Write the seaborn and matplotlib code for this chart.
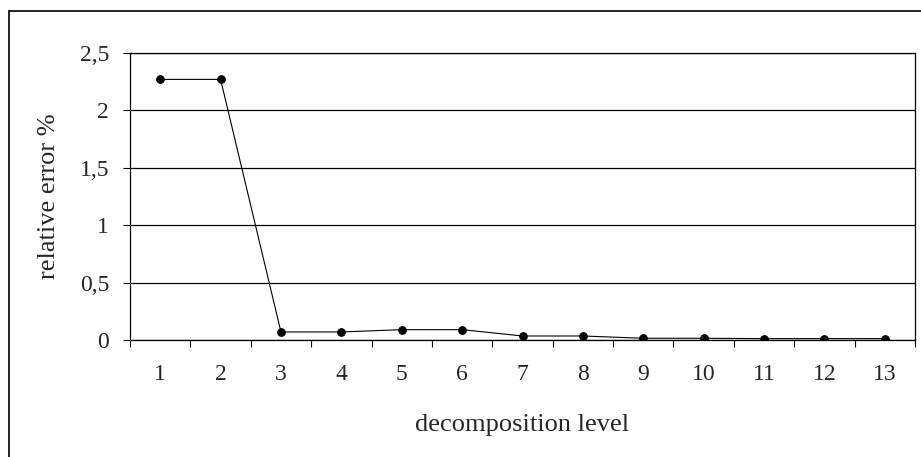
import numpy as np
import pandas as pd
import matplotlib
matplotlib.use('Agg')
import matplotlib.pyplot as plt
from matplotlib.ticker import FuncFormatter, FixedLocator
from matplotlib.lines import Line2D
import seaborn as sns

# Datos
niveles = list(range(1, 14))
error_relativo = [2.27, 2.27, 0.07, 0.07, 0.09, 0.09, 0.035, 0.035, 0.015, 0.015, 0.012, 0.012, 0.012]
y_ticks = [0, 0.5, 1, 1.5, 2, 2.5]

df = pd.DataFrame({'nivel': niveles, 'error': error_relativo})

sns.set_style('white')
plt.rcParams['font.family'] = ['Liberation Serif', 'DejaVu Serif']

fig = plt.figure(figsize=(9.21, 4.57), dpi=100)
ax = fig.add_axes([130/921, 1 - 340/457, (915 - 130)/921, (340 - 53)/457])

sns.lineplot(data=df, x='nivel', y='error', color='black', linewidth=0.8,
             marker='o', markersize=5.5, markeredgecolor='black', ax=ax)

ax.set_xlim(0.5, 13.5)
ax.set_ylim(0, 2.5)

# Ticks de categoría: marcas en los bordes, etiquetas en el centro
ax.xaxis.set_major_locator(FixedLocator(np.arange(0.5, 14, 1)))
ax.xaxis.set_major_formatter(FuncFormatter(lambda v, p: ''))
ax.xaxis.set_minor_locator(FixedLocator(niveles))
ax.set_xticklabels([str(n) for n in niveles], minor=True)
ax.tick_params(axis='x', which='major', direction='out', length=5, width=0.8, color='black', bottom=True)
ax.tick_params(axis='x', which='minor', length=0, pad=17, labelsize=17)

ax.set_yticks(y_ticks)
ax.yaxis.set_major_formatter(FuncFormatter(lambda v, p: f'{v:g}'.replace('.', ',')))
ax.tick_params(axis='y', direction='out', length=5, width=0.8, color='black', left=True, pad=10, labelsize=17)

ax.grid(True, axis='y', color='black', linewidth=0.9)
ax.grid(False, axis='x')
ax.set_axisbelow(True)

for lado in ['left', 'bottom', 'top', 'right']:
    ax.spines[lado].set_visible(True)
    ax.spines[lado].set_color('black')
    ax.spines[lado].set_linewidth(0.9)

ax.set_xlabel('decomposition level', fontsize=19, labelpad=21)
ax.set_ylabel('relative error %', fontsize=19, labelpad=14)

# Marco exterior
fig.add_artist(Line2D([9/921, 9/921], [0, 1 - 11/457], transform=fig.transFigure, color='black', linewidth=1.2))
fig.add_artist(Line2D([9/921, 1], [1 - 11/457, 1 - 11/457], transform=fig.transFigure, color='black', linewidth=1.2))

fig.savefig('out.png', dpi=100)
